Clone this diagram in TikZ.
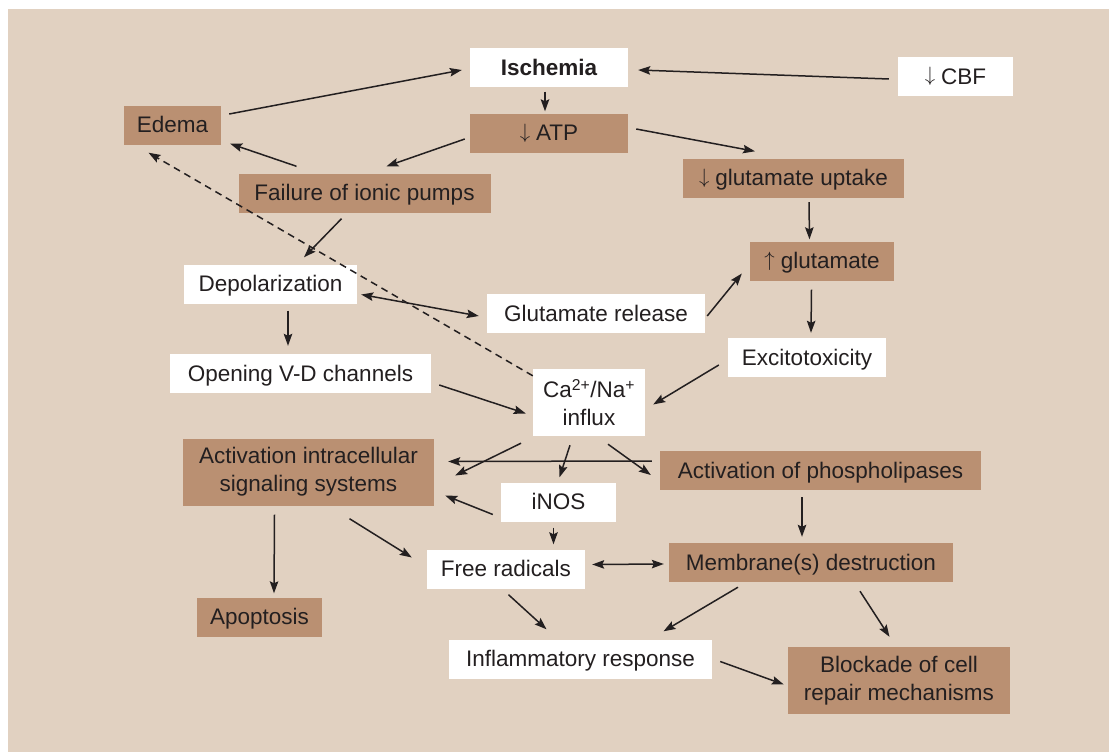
\documentclass[tikz,border=0pt]{standalone}
\usepackage{fontspec}
\setmainfont{Liberation Sans}
\usetikzlibrary{arrows.meta,calc}

\definecolor{bgbeige}{HTML}{E1D1C1}
\definecolor{boxbrown}{HTML}{BA9072}
\definecolor{inkgray}{HTML}{231F20}

\newcommand{\dn}{\raisebox{2.5pt}{$\downarrow$}\hspace{6pt}}
\newcommand{\upa}{\raisebox{2.5pt}{$\uparrow$}\hspace{6pt}}

\tikzset{
	box/.style={inner sep=0pt, minimum height=39pt, text height=18pt, text depth=3pt,
		text=inkgray, font=\fontsize{22.5}{28}\selectfont},
	twoline/.style={text height=, text depth=, align=center, minimum height=67pt},
	whitebox/.style={box, fill=white},
	brownbox/.style={box, fill=boxbrown},
	arr/.style={-{Stealth[length=12pt,width=8.5pt,inset=2pt]}, line width=1.5pt, draw=inkgray},
	biarr/.style={{Stealth[length=12pt,width=8.5pt,inset=2pt]}-{Stealth[length=12pt,width=8.5pt,inset=2pt]}, line width=1.5pt, draw=inkgray},
	dasharr/.style={arr, dash pattern=on 7pt off 5pt}
}

\begin{document}
\begin{tikzpicture}[x=1pt, y=-1pt]
	\useasboundingbox (0,0) rectangle (1109,752);
	\fill[white] (0,0) rectangle (1109,752);
	\fill[bgbeige] (8,9) rectangle (1109,752);

	% boxes
	\node[whitebox, minimum width=158pt, font=\fontsize{22.5}{28}\selectfont\bfseries] (ischemia) at (549,68) {Ischemia};
	\node[whitebox, minimum width=115pt] (cbf) at (955.5,77) {\dn CBF};
	\node[brownbox, minimum width=97pt] (edema) at (172.5,125) {Edema};
	\node[brownbox, minimum width=158pt] (atp) at (549,133) {\dn ATP};
	\node[brownbox, minimum width=252pt] (pumps) at (364.5,193) {Failure of ionic pumps};
	\node[brownbox, minimum width=221pt] (uptake) at (793.5,178) {\dn glutamate uptake};
	\node[whitebox, minimum width=173pt] (depol) at (270.5,284) {Depolarization};
	\node[brownbox, minimum width=144pt] (upglu) at (822,261) {\upa glutamate};
	\node[whitebox, minimum width=218pt] (release) at (596,313.5) {Glutamate release};
	\node[whitebox, minimum width=158pt] (excito) at (807,357.5) {Excitotoxicity};
	\node[whitebox, minimum width=261pt] (vdchan) at (300.5,373.5) {Opening V-D channels};
	\node[whitebox, twoline, minimum width=112pt, minimum height=67pt] (influx) at (589,402.5)
		{Ca\textsuperscript{2+}/Na\textsuperscript{+}\\influx};
	\node[brownbox, twoline, minimum width=251pt] (intra) at (308.5,472)
		{Activation intracellular\\signaling systems};
	\node[brownbox, minimum width=321pt] (phospho) at (820.5,470.5) {Activation of phospholipases};
	\node[whitebox, minimum width=115pt] (inos) at (558.5,502) {iNOS};
	\node[whitebox, minimum width=158pt] (radicals) at (506,569) {Free radicals};
	\node[brownbox, minimum width=284pt] (membrane) at (811,562.5) {Membrane(s) destruction};
	\node[brownbox, minimum width=125pt] (apoptosis) at (259.5,617) {Apoptosis};
	\node[whitebox, minimum width=263pt] (inflam) at (580.5,659) {Inflammatory response};
	\node[brownbox, twoline, minimum width=222pt] (blockade) at (899,680.5)
		{Blockade of cell\\repair mechanisms};

	% connectors
	\draw[arr] ($(edema.east)+(8,-11)$) -- ($(ischemia.west)+(-8,2)$);
	\draw[arr] ($(cbf.west)+(-9,2)$) -- ($(ischemia.east)+(10,2)$);
	\draw[arr] ($(ischemia.south)+(-4,4)$) -- ($(atp.north)+(-4,-2)$);
	\draw[arr] ($(atp.west)+(-5,6)$) -- ($(pumps.north)+(22,-7)$);
	\draw[arr] ($(atp.east)+(8,-4)$) -- ($(uptake.north)+(-38.5,-7)$);
	\draw[arr] ($(pumps.north)+(-68,-7)$) -- ($(edema.south east)+(9,-1)$);
	\draw[arr] ($(pumps.south)+(-23,6)$) -- ($(depol.north)+(33.5,-7)$);
	\draw[arr] ($(uptake.south)+(15.5,4.5)$) -- ($(upglu.north)+(-12.5,-2)$);
	\draw[arr] ($(release.east)+(2,2.5)$) -- ($(upglu.west)+(-8,12.5)$);
	\draw[biarr] ($(depol.east)+(4,10.5)$) -- ($(release.west)+(-8,2.5)$);
	\draw[dasharr] ($(influx.north west)+(0,7)$) -- ($(edema.south)+(-24,8)$);
	\draw[arr] ($(depol.south)+(17.5,7)$) -- ($(vdchan.north)+(-12.5,-8)$);
	\draw[arr] ($(upglu.south)+(-10.5,9)$) -- ($(excito.north)+(4,-5)$);
	\draw[arr] ($(excito.west)+(-9,7.5)$) -- ($(influx.east)+(8,2)$);
	\draw[arr] ($(vdchan.east)+(8,11.5)$) -- ($(influx.west)+(-7,11)$);
	\draw[arr] ($(influx.south)+(-68,7)$) -- ($(intra.east)+(21,3.5)$);
	\draw[arr] ($(influx.south)+(-19,9)$) -- ($(inos.north)+(1,-5)$);
	\draw[arr] ($(influx.south)+(19,8)$) -- ($(phospho.west)+(-9,4.5)$);
	\draw[arr] ($(phospho.west)+(-8,-9.5)$) -- ($(intra.east)+(14,-10.5)$);
	\draw[arr] ($(inos.west)+(-8,12.5)$) -- ($(intra.east)+(11,23.5)$);
	\draw[arr] ($(intra.south)+(-34,9)$) -- ($(apoptosis.north)+(14.5,-4)$);
	\draw[arr] ($(intra.south)+(41,13)$) -- ($(radicals.west)+(-15,-11.5)$);
	\draw[arr] ($(inos.south)+(-5,6)$) -- ($(radicals.north)+(47.5,-5)$);
	\draw[biarr] ($(radicals.east)+(7,-4.5)$) -- ($(membrane.west)+(-5,1.5)$);
	\draw[arr] ($(phospho.south)+(-18.5,7)$) -- ($(membrane.north)+(-9,-6)$);
	\draw[arr] ($(radicals.south)+(2.5,6)$) -- ($(inflam.north)+(-34,-10)$);
	\draw[arr] ($(membrane.south)+(-73,5)$) -- ($(inflam.north)+(83,-8)$);
	\draw[arr] ($(membrane.south)+(49,9)$) -- ($(blockade.north)+(-9.5,-10)$);
	\draw[arr] ($(inflam.east)+(8,2.5)$) -- ($(blockade.west)+(-4,4)$);
\end{tikzpicture}
\end{document}
